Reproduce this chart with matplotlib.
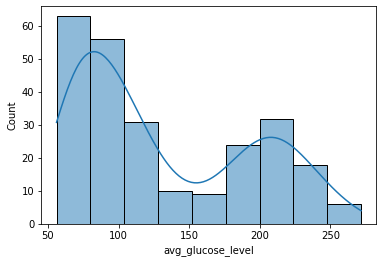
import numpy as np
import pandas as pd
import matplotlib
matplotlib.use("Agg")
import matplotlib.pyplot as plt
import seaborn as sns

# histogram of avg_glucose_level (stroke cases)
bin_edges = list(np.linspace(56.11, 271.74, 10))
counts = [63, 56, 31, 10, 9, 24, 32, 18, 6]
bin_centers = [(a + b) / 2 for a, b in zip(bin_edges[:-1], bin_edges[1:])]

df = pd.DataFrame({"avg_glucose_level": bin_centers, "n": counts})

fig = plt.figure(figsize=(382 / 72, 263 / 72), dpi=72)
ax = fig.add_axes([41.3 / 382, 39 / 263, 335 / 382, 218 / 263])

# weighted kde: effective n is small, so shrink bandwidth to match the original
sns.histplot(data=df, x="avg_glucose_level", weights="n", bins=bin_edges,
             kde=True, ax=ax,
             kde_kws={"bw_adjust": 0.4, "cut": 3,
                      "clip": (bin_edges[0], bin_edges[-1])})
ax.set_ylabel("Count")

fig.savefig("out.png", dpi=72)
